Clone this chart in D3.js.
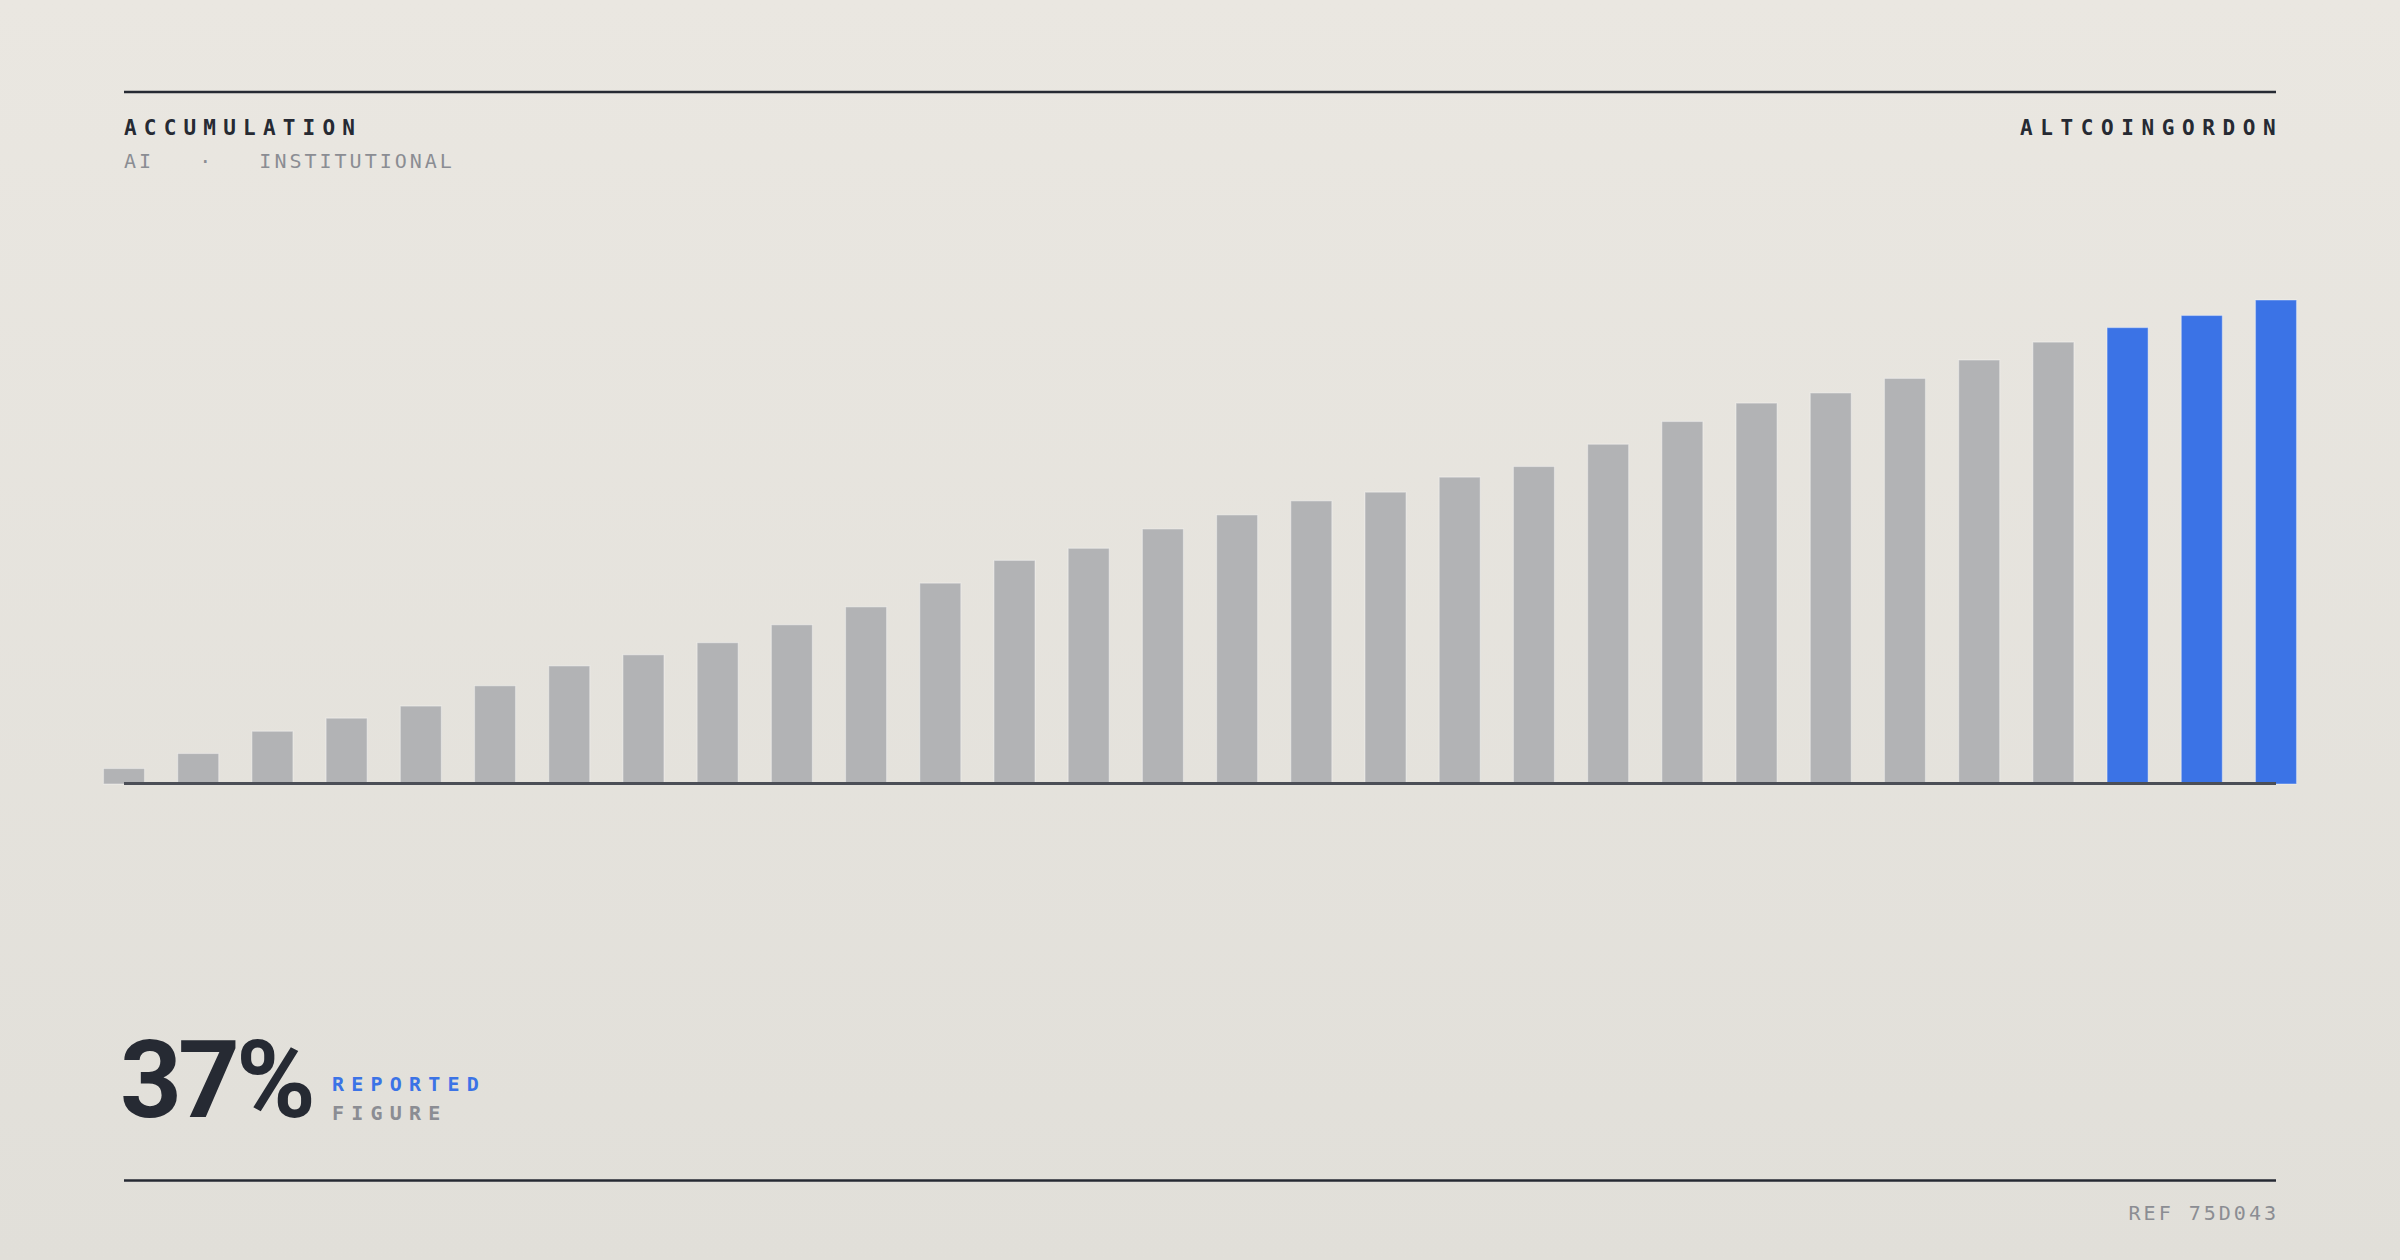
<!DOCTYPE html>
<html>
<head>
<meta charset="utf-8">
<script src="https://cdn.jsdelivr.net/npm/d3@7"></script>
<style>
  html, body { margin: 0; padding: 0; }
  body { width: 2400px; height: 1260px; overflow: hidden; }
  svg { display: block; }
</style>
</head>
<body>
<svg id="chart" width="2400" height="1260"></svg>
<script>
// ---- data ----
const categories = d3.range(1, 31).map(i => "P" + i);
const values = [3.2, 6.3, 10.9, 13.6, 16.1, 20.3, 24.4, 26.7, 29.2, 32.9,
                36.6, 41.5, 46.2, 48.7, 52.7, 55.6, 58.5, 60.3, 63.4, 65.6,
                70.2, 74.9, 78.7, 80.8, 83.8, 87.6, 91.3, 94.3, 96.8, 100];
const highlightCount = 3;
const titleText = "ACCUMULATION";
const subtitleText = "AI   ·   INSTITUTIONAL";
const brandText = "ALTCOINGORDON";
const bigFigure = "37%";
const figureLabel1 = "REPORTED";
const figureLabel2 = "FIGURE";
const refText = "REF 75D043";

// ---- layout ----
const W = 2400, H = 1260;
const left = 124, right = 2276;
const baseY = 784, topY = 300;
const GRAY = "#b2b3b5", BLUE = "#3b73e6", INK = "#262a33", MUTED = "#8b8d93";
const MONO = "'DejaVu Sans Mono', 'Liberation Mono', monospace";

const svg = d3.select("#chart");
const defs = svg.append("defs");
const grad = defs.append("linearGradient").attr("id", "bg").attr("x1", 0).attr("y1", 0).attr("x2", 0).attr("y2", 1);
grad.append("stop").attr("offset", "0%").attr("stop-color", "#eae7e1");
grad.append("stop").attr("offset", "100%").attr("stop-color", "#e1dfd9");
svg.append("rect").attr("width", W).attr("height", H).attr("fill", "url(#bg)");

// rules
svg.append("line").attr("x1", left).attr("x2", right).attr("y1", 92).attr("y2", 92)
  .attr("stroke", INK).attr("stroke-width", 2.5);
svg.append("line").attr("x1", left).attr("x2", right).attr("y1", 1180.5).attr("y2", 1180.5)
  .attr("stroke", INK).attr("stroke-width", 2.5);

// header texts
svg.append("text").attr("x", left).attr("y", 135).text(titleText)
  .attr("font-family", MONO).attr("font-weight", 700).attr("font-size", 21)
  .attr("letter-spacing", 7.2).attr("fill", INK);
svg.append("text").attr("x", left).attr("y", 168).text(subtitleText)
  .style("white-space", "pre")
  .attr("font-family", MONO).attr("font-weight", 400).attr("font-size", 20)
  .attr("letter-spacing", 3).attr("fill", MUTED);
svg.append("text").attr("x", right + 7.2).attr("y", 135).text(brandText)
  .attr("text-anchor", "end")
  .attr("font-family", MONO).attr("font-weight", 700).attr("font-size", 21)
  .attr("letter-spacing", 7.6).attr("fill", INK);

// scales
const x = d3.scalePoint().domain(categories).range([left, right]);
const y = d3.scaleLinear().domain([0, 100]).range([baseY, topY]);
const barW = x.step() * 0.553;

svg.append("g").selectAll("rect").data(values).join("rect")
  .attr("x", (d, i) => x(categories[i]) - barW / 2)
  .attr("y", d => y(d))
  .attr("width", barW)
  .attr("height", d => y(0) - y(d))
  .attr("fill", (d, i) => i >= values.length - highlightCount ? BLUE : GRAY)
  .attr("stroke", "rgba(255,255,255,0.35)")
  .attr("stroke-width", 1.2);

// baseline
svg.append("line").attr("x1", left).attr("x2", right).attr("y1", y(0) - 0.5).attr("y2", y(0) - 0.5)
  .attr("stroke", "#4b4e56").attr("stroke-width", 3);

// big figure
svg.append("text").attr("x", 120).attr("y", 1117).text(bigFigure)
  .attr("font-family", "Roboto, 'Noto Sans', sans-serif").attr("font-weight", 700)
  .attr("font-size", 108).attr("letter-spacing", -4).attr("fill", INK);
svg.append("text").attr("x", 332).attr("y", 1091).text(figureLabel1)
  .attr("font-family", MONO).attr("font-weight", 700).attr("font-size", 20)
  .attr("letter-spacing", 7.2).attr("fill", BLUE);
svg.append("text").attr("x", 332).attr("y", 1120).text(figureLabel2)
  .attr("font-family", MONO).attr("font-weight", 700).attr("font-size", 20)
  .attr("letter-spacing", 7.2).attr("fill", MUTED);

// ref
svg.append("text").attr("x", right + 3).attr("y", 1220).text(refText)
  .attr("text-anchor", "end")
  .attr("font-family", MONO).attr("font-weight", 400).attr("font-size", 20)
  .attr("letter-spacing", 3).attr("fill", MUTED);
</script>
</body>
</html>
